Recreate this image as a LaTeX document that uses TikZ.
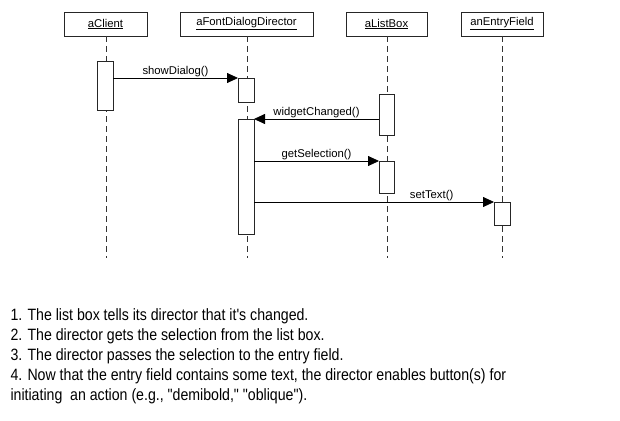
\documentclass[tikz,border=0pt]{standalone}
\usepackage{fontspec}
\usepackage{graphicx}
\setmainfont{Liberation Sans}[Ligatures=TeXOff]
\usetikzlibrary{arrows.meta}
\begin{document}
\begin{tikzpicture}[x=1pt,y=-1pt,
  every node/.style={inner sep=0pt, outer sep=0pt},
  hdr/.style={draw=black!85, line width=0.8pt, minimum height=24pt, font=\fontsize{11.3}{13}\selectfont},
  lifeline/.style={draw=black!80, line width=0.8pt, dash pattern=on 6pt off 4pt},
  actbox/.style={draw=black!85, fill=white, line width=0.8pt, minimum width=16pt},
  msg/.style={draw=black, line width=0.8pt, -{Triangle[length=11pt,width=10pt]}},
  msglbl/.style={anchor=base, font=\fontsize{11.3}{13}\selectfont, yshift=3.5pt},
  note/.style={anchor=base west, font=\fontsize{14}{20}\selectfont}
]
\useasboundingbox (0,0) rectangle (620,420);

% headers
\node[hdr, minimum width=83pt] (hc) at (105.5,24) {\underline{aClient}};
\node[hdr, minimum width=133pt] (hd) at (246.5,24) {\underline{aFontDialogDirector}};
\node[hdr, minimum width=81pt] (hl) at (386.5,24) {\underline{aListBox}};
\node[hdr, minimum width=82pt] (he) at (502,24) {\underline{anEntryField}};

% lifeline ends
\coordinate (ec) at (106,258);
\coordinate (ed) at (247,258);
\coordinate (el) at (387,258);
\coordinate (ee) at (502,258);

\draw[lifeline] (hc.south -| ec) -- (ec);
\draw[lifeline] (hd.south -| ed) -- (ed);
\draw[lifeline] (hl.south -| el) -- (el);
\draw[lifeline] (he.south -| ee) -- (ee);

% activations
\node[actbox, minimum height=49pt] (c1) at (105,85.5) {};
\node[actbox, minimum height=24pt] (d1) at (246,90) {};
\node[actbox, minimum height=115pt] (d2) at (246,176.5) {};
\node[actbox, minimum width=15pt, minimum height=41pt] (l1) at (386.5,114.5) {};
\node[actbox, minimum width=15pt, minimum height=32pt] (l2) at (386.5,177) {};
\node[actbox, minimum height=23pt] (e1) at (502,213.5) {};

% messages
\draw[msg] (c1.east |- d1.north) -- node[msglbl] (m1) {showDialog()} (d1.north west);
\draw[msg] (l1.west |- d2.north) -- node[msglbl] (m2) {widgetChanged()} (d2.north east);
\draw[msg] (d2.east |- l2.north) -- node[msglbl] (m3) {getSelection()} (l2.north west);
\draw[msg] (d2.east |- e1.north) -- node[msglbl, pos=0.74] (m4) {setText()} (e1.north west);

% notes
\node[note] (n1) at (10.5,320) {\scalebox{1.01}[1.17]{1. The list box tells its director that it's changed.}};
\node[note] (n2) at (10.5,340) {\scalebox{1.01}[1.17]{2. The director gets the selection from the list box.}};
\node[note] (n3) at (10.5,360) {\scalebox{1.01}[1.17]{3. The director passes the selection to the entry field.}};
\node[note] (n4) at (10.5,380) {\scalebox{1.01}[1.17]{4. Now that the entry field contains some text, the director enables button(s) for}};
\node[note] (n5) at (10.5,400) {\scalebox{1.01}[1.17]{initiating\ \ an action (e.g., "demibold," "oblique").}};
\end{tikzpicture}
\end{document}
